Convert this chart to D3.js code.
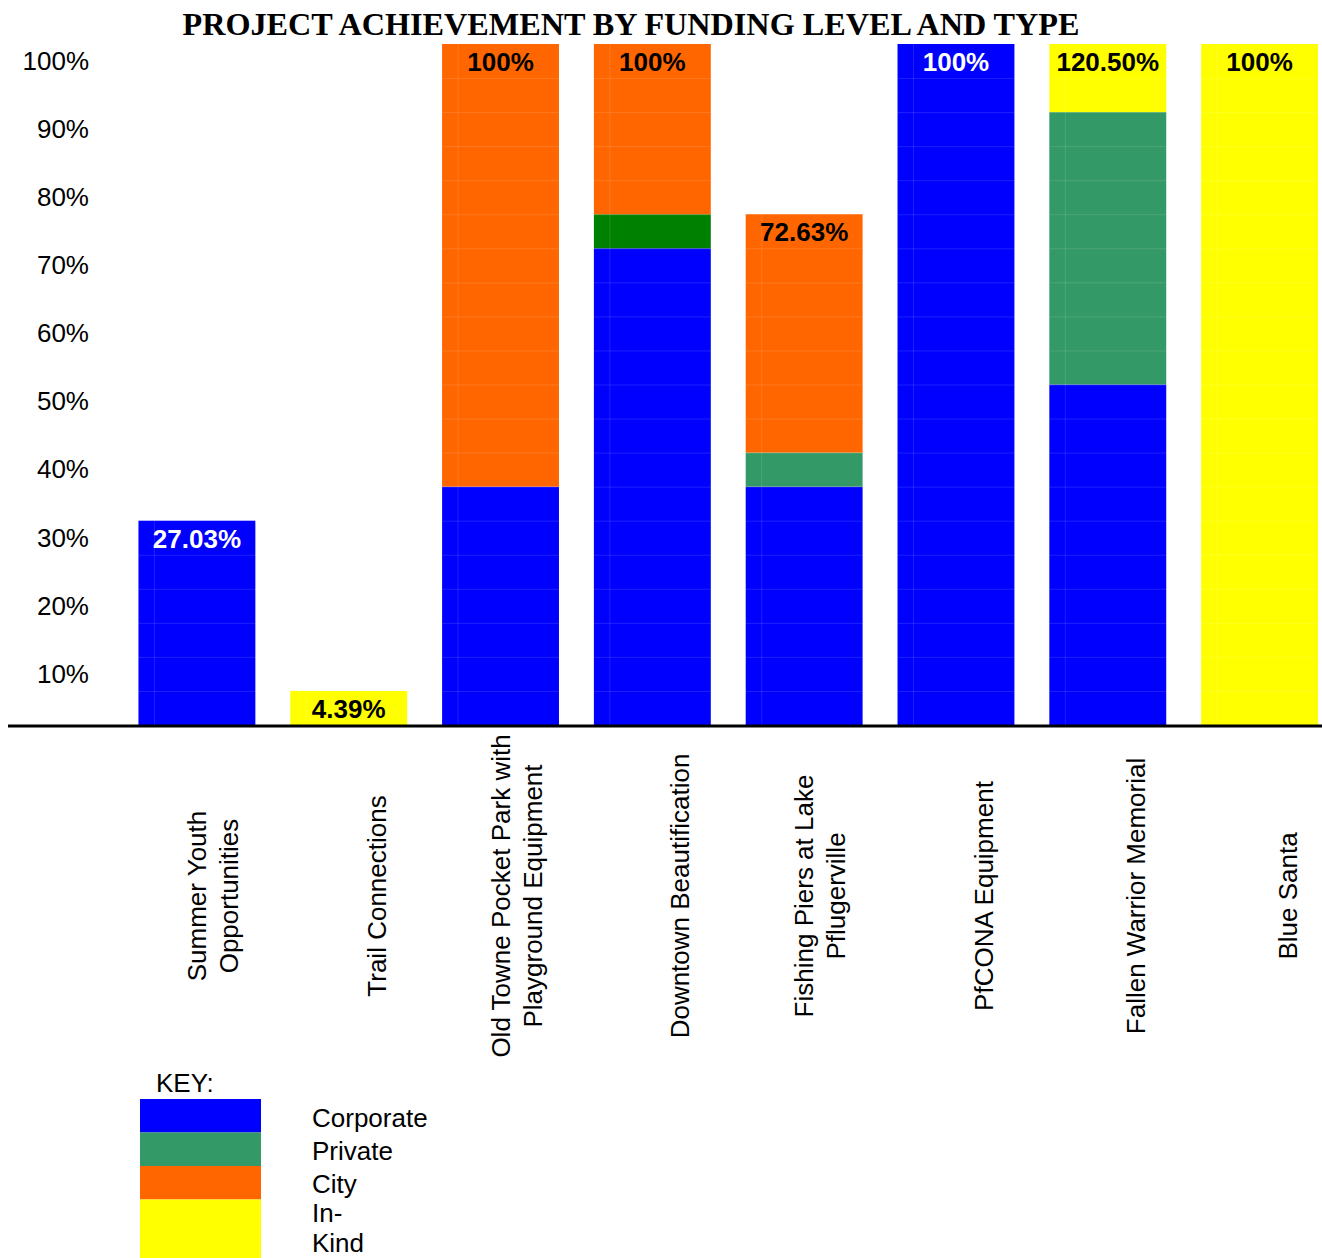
<!DOCTYPE html>
<html>
<head>
<meta charset="utf-8">
<script src="https://cdn.jsdelivr.net/npm/d3@7"></script>
<style>
  html, body { margin: 0; padding: 0; background: #fff; }
  svg { display: block; }
</style>
</head>
<body>
<svg id="chart" width="1322" height="1258"></svg>
<script>
// ---- data ----
const categories = [
  ["Summer Youth", "Opportunities"],
  ["Trail Connections"],
  ["Old Towne Pocket Park with", "Playground Equipment"],
  ["Downtown Beautification"],
  ["Fishing Piers at Lake", "Pflugerville"],
  ["PfCONA Equipment"],
  ["Fallen Warrior Memorial"],
  ["Blue Santa"]
];
const corporate   = [30, 0, 35, 70, 35, 100, 50, 0];
const privateFund = [0, 0, 0, 0, 5, 0, 40, 0];
const privateDark = [0, 0, 0, 5, 0, 0, 0, 0];
const city        = [0, 0, 65, 25, 35, 0, 0, 0];
const inKind      = [0, 5, 0, 0, 0, 0, 10, 100];
const barLabels   = ["27.03%", "4.39%", "100%", "100%", "72.63%", "100%", "120.50%", "100%"];
const yTicks      = [10, 20, 30, 40, 50, 60, 70, 80, 90, 100];
const seriesKeys  = ["corporate", "privateFund", "privateDark", "city", "inKind"];
const legendItems = [["Corporate"], ["Private"], ["City"], ["In-", "Kind"]];
const titleText   = "PROJECT ACHIEVEMENT BY FUNDING LEVEL AND TYPE";

// ---- styles ----
const colors = {
  corporate: "#0000FF",
  privateFund: "#339966",
  privateDark: "#008000",
  city: "#FF6600",
  inKind: "#FFFF00"
};
const legendColors = ["#0000FF", "#339966", "#FF6600", "#FFFF00"];

const svg = d3.select("#chart");
const rows = categories.map((c, i) => ({
  idx: i,
  corporate: corporate[i], privateFund: privateFund[i], privateDark: privateDark[i],
  city: city[i], inKind: inKind[i]
}));

const x = d3.scaleBand().domain(d3.range(categories.length))
  .range([121, 1335.5]).paddingInner(0.23).paddingOuter(0.115);
const y = d3.scaleLinear().domain([0, 100]).range([725, 44]);

const stack = d3.stack().keys(seriesKeys);
const stacked = stack(rows);

// title
svg.append("text")
  .attr("x", 631).attr("y", 35)
  .attr("text-anchor", "middle")
  .attr("font-family", "'Liberation Serif', 'Times New Roman', serif")
  .attr("font-weight", "bold")
  .attr("font-size", 31)
  .attr("textLength", 897)
  .attr("lengthAdjust", "spacingAndGlyphs")
  .text(titleText);

// bars
const gBars = svg.append("g");
stacked.forEach(layer => {
  gBars.selectAll(null)
    .data(layer.filter(d => d[1] - d[0] > 0))
    .enter().append("rect")
    .attr("x", d => x(d.data.idx))
    .attr("width", x.bandwidth())
    .attr("y", d => y(d[1]))
    .attr("height", d => y(d[0]) - y(d[1]))
    .attr("fill", colors[layer.key]);
});

// faint gridlines inside bars
const totals = rows.map(r => seriesKeys.reduce((s, k) => s + r[k], 0));
rows.forEach((r, i) => {
  const top = Math.min(totals[i], 100);
  const lines = d3.range(5, top, 5);
  gBars.selectAll(null).data(lines).enter().append("line")
    .attr("x1", x(i)).attr("x2", x(i) + x.bandwidth())
    .attr("y1", v => y(v) + 0.5).attr("y2", v => y(v) + 0.5)
    .attr("stroke", "rgba(255,255,255,0.12)").attr("stroke-width", 1);
  gBars.append("line")
    .attr("x1", x(i) + 16).attr("x2", x(i) + 16)
    .attr("y1", y(top)).attr("y2", y(0))
    .attr("stroke", "rgba(255,255,255,0.12)").attr("stroke-width", 1);
});

// bar value labels
rows.forEach((r, i) => {
  const total = Math.min(totals[i], 100);
  let topKey = null;
  seriesKeys.forEach(k => { if (r[k] > 0) topKey = k; });
  svg.append("text")
    .attr("x", x(i) + x.bandwidth() / 2)
    .attr("y", y(total) + 27)
    .attr("text-anchor", "middle")
    .attr("font-family", "'Liberation Sans', Arial, sans-serif")
    .attr("font-weight", "bold")
    .attr("font-size", 26)
    .attr("fill", topKey === "corporate" ? "#FFFFFF" : "#000000")
    .text(barLabels[i]);
});

// y axis labels
const yAxis = d3.axisLeft(y).tickValues(yTicks).tickSize(0).tickFormat(d => d + "%");
const gy = svg.append("g").attr("transform", "translate(89,17)").call(yAxis);
gy.select(".domain").remove();
gy.selectAll("text")
  .attr("x", 0)
  .attr("font-family", "'Liberation Sans', Arial, sans-serif")
  .attr("font-size", 26)
  .attr("fill", "#000");

// baseline
svg.append("line")
  .attr("x1", 8).attr("x2", 1322)
  .attr("y1", y(0) + 1).attr("y2", y(0) + 1)
  .attr("stroke", "#000").attr("stroke-width", 3);

// x labels (rotated)
categories.forEach((lines, i) => {
  const cx = x(i) + x.bandwidth() / 2;
  const n = lines.length;
  lines.forEach((ln, j) => {
    const offset = n === 1 ? 28 : (j === 0 ? 0 : 32);
    svg.append("text")
      .attr("transform", `translate(${cx + offset},896) rotate(-90)`)
      .attr("text-anchor", "middle")
      .attr("dy", "0.35em")
      .attr("font-family", "'Liberation Sans', Arial, sans-serif")
      .attr("font-size", 26)
      .attr("fill", "#000")
      .text(ln);
  });
});

// legend
svg.append("text")
  .attr("x", 156).attr("y", 1092)
  .attr("font-family", "'Liberation Sans', Arial, sans-serif")
  .attr("font-size", 26)
  .text("KEY:");
const legY = d3.scaleBand().domain(d3.range(4)).range([1099, 1233]);
legendItems.forEach((lines, i) => {
  const h = i === 3 ? 80 : legY.bandwidth();
  svg.append("rect")
    .attr("x", 140).attr("y", legY(i))
    .attr("width", 121).attr("height", h)
    .attr("fill", legendColors[i]);
});
let lineIdx = 0;
const labelYs = [1118, 1151, 1184, 1213, 1243];
legendItems.forEach((lines) => {
  lines.forEach(ln => {
    svg.append("text")
      .attr("x", 312).attr("y", labelYs[lineIdx++])
      .attr("dy", "0.35em")
      .attr("font-family", "'Liberation Sans', Arial, sans-serif")
      .attr("font-size", 26)
      .text(ln);
  });
});
</script>
</body>
</html>
